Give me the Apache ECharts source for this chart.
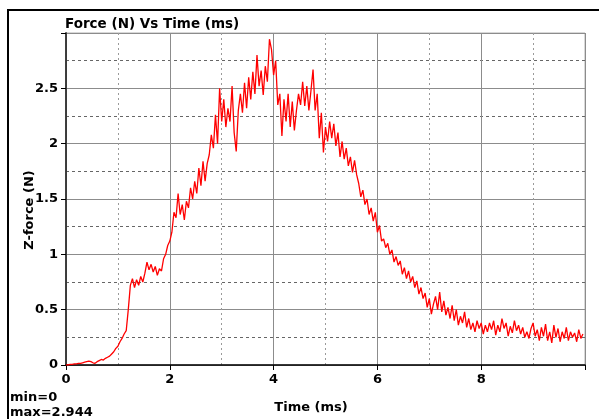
<!DOCTYPE html>
<html>
<head>
<meta charset="utf-8">
<script src="https://cdn.jsdelivr.net/npm/echarts@6/dist/echarts.min.js"></script>
<style>html,body{margin:0;padding:0;background:#fff;}#c{width:599px;height:419px;}</style>
</head>
<body>
<div id="c"></div>
<script>
const chartTitle = 'Force (N) Vs Time (ms)';
const xName = 'Time (ms)';
const yName = 'Z-force (N)';
const statMin = 'min=0';
const statMax = 'max=2.944';
const sampleStart = 0;      // ms
const sampleStep = 0.04;    // ms between samples
const forceValues = [
0,0,0.005,0.005,0.01,0.01,0.015,0.015,0.02,0.025,0.03,0.035,0.03,
0.02,0.015,0.03,0.04,0.05,0.045,0.06,0.07,0.08,0.1,0.12,0.15,0.17,0.21,0.24,0.28,0.31,
0.5,0.72,0.78,0.7,0.77,0.72,0.8,0.75,0.83,0.93,0.86,0.91,0.84,0.89,0.81,0.87,0.85,0.96,1.0,1.08,
1.12,1.2,1.38,1.33,1.55,1.36,1.45,1.31,1.48,1.42,1.6,1.5,1.66,1.55,1.78,1.62,1.84,1.66,1.82,1.9,
2.08,1.96,2.26,2.0,2.5,2.2,2.4,2.15,2.32,2.2,2.52,2.1,1.93,2.3,2.45,2.28,2.55,2.32,2.6,2.4,
2.65,2.45,2.8,2.52,2.66,2.44,2.7,2.56,2.944,2.85,2.62,2.75,2.35,2.45,2.07,2.4,2.2,2.45,2.15,2.38,
2.12,2.3,2.45,2.35,2.56,2.34,2.52,2.3,2.48,2.67,2.3,2.45,2.05,2.28,1.92,2.15,2.02,2.2,2.05,2.18,
1.98,2.1,1.88,2.02,1.86,1.96,1.8,1.88,1.74,1.85,1.72,1.64,1.52,1.58,1.45,1.5,1.36,1.42,1.3,1.38,
1.2,1.26,1.12,1.14,1.06,1.1,1.0,1.04,0.93,0.98,0.9,0.94,0.82,0.88,0.78,0.85,0.75,0.8,0.7,0.76,
0.64,0.7,0.6,0.65,0.52,0.6,0.46,0.55,0.62,0.5,0.66,0.48,0.58,0.45,0.52,0.42,0.54,0.4,0.5,0.36,
0.44,0.38,0.48,0.34,0.42,0.32,0.38,0.3,0.4,0.33,0.38,0.28,0.36,0.3,0.38,0.32,0.4,0.27,0.36,0.3,
0.42,0.33,0.38,0.26,0.35,0.29,0.4,0.31,0.36,0.28,0.34,0.25,0.3,0.24,0.33,0.38,0.26,0.32,0.22,0.34,
0.26,0.37,0.22,0.3,0.2,0.36,0.25,0.33,0.21,0.3,0.24,0.34,0.22,0.3,0.25,0.29,0.21,0.32,0.24,0.28
];
const xMin = 0, xMax = 10, xStep = 2;
const yMin = 0, yMax = 3, yStep = 0.5;

const seriesData = forceValues.map((v, i) => [+(sampleStart + i * sampleStep).toFixed(3), v]);

const chart = echarts.init(document.getElementById('c'), null, {renderer: 'canvas'});
const font = '"DejaVu Sans", Verdana, sans-serif';
chart.setOption({
  animation: false,
  backgroundColor: '#fff',
  grid: {left: 66, top: 33, right: 14, bottom: 54, show: true, borderColor: '#b0b0b0', borderWidth: 1},
  xAxis: [{
    type: 'value', min: xMin, max: xMax, interval: xStep,
    axisLine: {show: true, onZero: false, lineStyle: {color: '#000', width: 1.5}},
    axisTick: {show: true, length: 5, lineStyle: {color: '#000'}},
    axisLabel: {color: '#000', fontWeight: 'bold', fontSize: 13, fontFamily: font, margin: 8,
      formatter: v => v === xMax ? '' : String(v)},
    splitLine: {show: true, lineStyle: {color: '#8c8c8c', width: 1}},
    minorTick: {show: false, splitNumber: 2},
    minorSplitLine: {show: true, lineStyle: {color: '#9a9a9a', type: [2, 3], width: 1}}
  }],
  yAxis: [{
    type: 'value', min: yMin, max: yMax, interval: yStep,
    axisLine: {show: true, onZero: false, lineStyle: {color: '#000', width: 1.5}},
    axisTick: {show: true, length: 5, lineStyle: {color: '#000'}},
    axisLabel: {color: '#000', fontWeight: 'bold', fontSize: 13, fontFamily: font, margin: 8,
      formatter: v => v === yMax ? '' : String(v)},
    splitLine: {show: true, lineStyle: {color: '#8c8c8c', width: 1}},
    minorTick: {show: false, splitNumber: 2},
    minorSplitLine: {show: true, lineStyle: {color: '#666', type: [3, 3], width: 1}}
  }, {
    type: 'value', position: 'right', min: yMin, max: yMax, interval: yStep,
    axisLine: {show: true, lineStyle: {color: '#444', width: 1.5}},
    axisTick: {show: false}, axisLabel: {show: false}, splitLine: {show: false}
  }],
  series: [{
    type: 'line', data: seriesData, showSymbol: false, symbol: 'none',
    lineStyle: {color: '#ff0000', width: 1.3}, itemStyle: {color: '#ff0000'},
    xAxisIndex: 0, yAxisIndex: 0
  }],
  graphic: [
    {type: 'line', shape: {x1: 7, y1: 10, x2: 599, y2: 10}, style: {stroke: '#000', lineWidth: 2}},
    {type: 'line', shape: {x1: 8, y1: 9, x2: 8, y2: 419}, style: {stroke: '#000', lineWidth: 2}},
    {type: 'text', x: 65, y: 24, style: {text: chartTitle, fill: '#000', font: 'bold 13.5px ' + font, verticalAlign: 'middle'}},
    {type: 'text', x: 311, y: 408, style: {text: xName, fill: '#000', font: 'bold 13px ' + font, align: 'center', verticalAlign: 'middle'}},
    {type: 'text', x: 30, y: 210, rotation: Math.PI / 2, style: {text: yName, fill: '#000', font: 'bold 13px ' + font, align: 'center', verticalAlign: 'middle'}},
    {type: 'text', x: 10, y: 398, style: {text: statMin, fill: '#000', font: 'bold 13px ' + font, verticalAlign: 'middle'}},
    {type: 'text', x: 10, y: 413, style: {text: statMax, fill: '#000', font: 'bold 13px ' + font, verticalAlign: 'middle'}}
  ]
});
</script>
</body>
</html>
